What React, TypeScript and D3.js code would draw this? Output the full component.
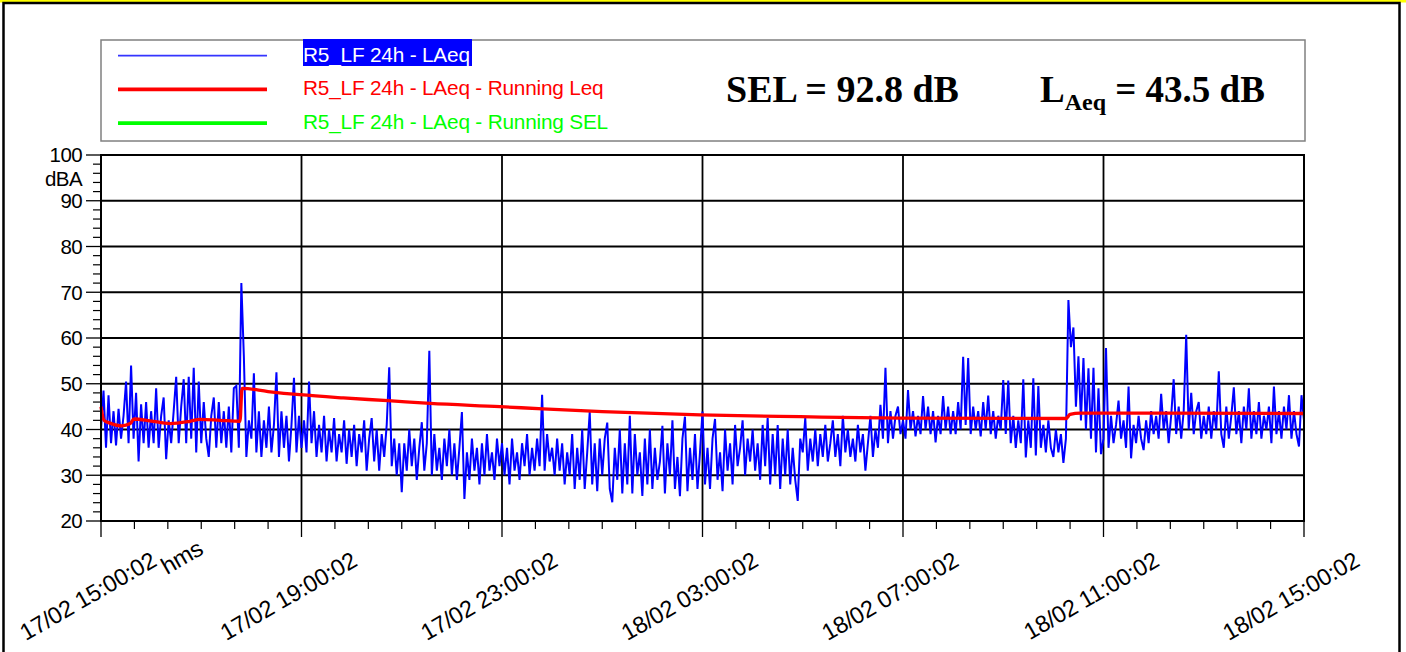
import React from 'react';
import * as d3 from 'd3';

// LAeq, one value every 3 minutes from 17/02 15:00:02 (rows = 1 hour)
const laeq: number[] = [
  40, 48.5, 36, 47.5, 37, 44, 36.5, 44.5, 38, 43, 50.5, 37, 54, 38, 48, 33, 45.5, 37, 46, 36,
  44, 37, 49, 36, 43, 47, 33.5, 42, 37, 44, 51.5, 37, 45, 51, 37, 51.5, 38, 53.5, 35, 50.5,
  37, 46, 38, 34, 43, 47, 36, 46, 37, 44, 36, 45, 35, 49, 49.5, 36, 72, 56, 34, 42,
  38, 52.3, 35, 44, 34, 42, 36, 45, 35, 41, 52.5, 34, 44, 36, 43, 33, 41, 51.3, 35, 43,
  36, 42, 35, 50.5, 37, 44, 34, 41, 35, 43, 33, 40, 35, 42.5, 33, 39, 35, 42, 32.5, 40,
  34, 41, 32, 39, 35, 42, 31, 38, 42.5, 33, 40, 31, 39, 34, 41, 53.6, 32, 38, 30, 37,
  26.3, 37, 31, 40, 32, 38, 29, 36, 41.6, 31, 37, 57.2, 30, 39, 31, 36, 29, 38, 32, 40,
  30, 37, 29, 36, 43.8, 24.8, 35, 29, 38, 31, 36, 28, 37, 30, 39, 31, 35, 29, 38, 32,
  37, 30, 36, 28, 38, 31, 35, 29, 37, 32, 39, 30, 36, 31, 38, 32, 47.6, 31, 39, 33,
  36, 30, 38, 31, 37, 28, 35, 30, 39, 27, 36, 29, 40, 27, 35, 43.8, 28, 37, 26.5, 38,
  30, 38, 41.5, 27, 24.1, 36, 29, 40, 26, 37, 28, 43, 26, 39, 30, 35, 25.5, 38, 28, 40,
  27, 36, 29, 33, 40.8, 26, 37, 30, 42, 27, 34, 25.4, 38, 42.8, 26.5, 36, 29, 39, 27, 35,
  43.9, 28, 36, 27, 38, 42.3, 29, 35, 26.5, 40, 31, 37, 28, 41, 32, 36, 42, 30, 38, 33,
  40, 31, 37, 29, 41, 32, 42.5, 28, 39, 30, 41, 27, 38, 30, 40, 28, 36, 29, 24.4, 38,
  35, 42.5, 31, 38, 33, 40, 32, 39, 34, 41, 33, 37, 42, 34, 39, 32, 43, 35, 40, 34,
  38, 33, 41, 35, 39, 31, 37, 43, 34, 40, 36, 45.4, 38, 53.5, 37, 44, 38, 43, 45, 39,
  42, 38, 48.6, 40, 44, 38.5, 43, 39, 47.3, 40, 45, 39, 44, 37.2, 43, 39, 47.3, 40, 45, 39,
  44, 39, 46, 40, 55.9, 41, 55.6, 39, 45, 40, 44, 38.5, 46, 40, 47.4, 39, 44, 38, 43, 40,
  50.8, 39, 50.7, 37, 43, 36, 42, 37, 51, 33.9, 42, 36, 51.2, 34.3, 49.5, 36, 41, 35, 42, 36,
  34, 40, 35, 39, 32.7, 38, 68.3, 58, 62.3, 45, 56, 42, 55.6, 40, 53.4, 38, 53.5, 35, 49, 34.6,
  38, 57.8, 36, 43, 37, 41, 46.3, 38, 42, 36, 49.4, 33.7, 41, 37, 43, 38, 35.5, 42, 37, 44,
  39, 43, 38, 47.8, 40, 44, 37, 43, 51, 39, 45, 38, 44, 60.7, 40, 48, 39, 44, 46, 38,
  43, 39, 45, 38, 44, 40, 52.7, 39, 36, 45, 38, 43, 49.2, 39, 44, 37, 45, 40, 49, 38,
  44, 39, 46, 38, 43, 40, 45, 37, 49.4, 39, 44, 38, 45, 40, 47.5, 38, 44, 39, 36.3, 47.5, 42,
];
const stepMin = 3;

// Running Leq read at selected minutes
const runMin: number[] = [0, 3.6, 10.8, 25, 35, 39.5, 58.7, 82.6, 106.5, 118.5, 142.4, 166.4, 168.8, 200, 238, 290, 343.5, 394, 477.6, 529, 600, 717, 837, 956, 1155, 1160, 1172, 1440];
const runVal: number[] = [45, 42, 41.4, 40.8, 41.3, 42.3, 41.9, 41.3, 41.8, 42.2, 42.0, 41.8, 49.0, 48.3, 47.6, 46.9, 46.3, 45.7, 45.0, 44.5, 43.9, 43.2, 42.8, 42.5, 42.4, 43.3, 43.6, 43.5];

const xTickLabels = ['17/02 15:00:02', '17/02 19:00:02', '17/02 23:00:02', '18/02 03:00:02', '18/02 07:00:02', '18/02 11:00:02', '18/02 15:00:02'];
const yTicks = [20, 30, 40, 50, 60, 70, 80, 90, 100];
const legendNames = ['R5_LF 24h - LAeq', 'R5_LF 24h - LAeq - Running Leq', 'R5_LF 24h - LAeq - Running SEL'];
const legendColors = ['#0000ff', '#ff0000', '#00ff00'];

const W = 1406;
const H = 652;
const sans = '"Liberation Sans", Arial, sans-serif';
const serif = '"Liberation Serif", "Times New Roman", serif';

const App: React.FC = () => {
  const x = d3.scaleLinear().domain([0, 1440]).range([101, 1304]);
  const y = d3.scaleLinear().domain([20, 100]).range([521, 155]);

  const blueLine = d3.line<number>()
    .x((_, i) => x(i * stepMin))
    .y(d => y(d));

  const redLine = d3.line<number>()
    .x((_, i) => x(runMin[i]))
    .y(d => y(d))
    .curve(d3.curveMonotoneX);

  const majorX = d3.range(0, 1441, 240);
  const minorX = d3.range(0, 1441, 40).filter(m => m % 240 !== 0);
  const minorY = d3.range(20, 101, 2).filter(v => v % 10 !== 0);

  return (
    <svg width={W} height={H} style={{ position: 'absolute', left: 0, top: 0, background: '#fff' }}>
      {/* frame */}
      <rect x={0} y={0} width={W} height={2.5} fill="#ffff00" />
      <rect x={3.5} y={3} width={1396} height={H + 10} fill="none" stroke="#000" strokeWidth={2.5} />

      {/* legend box */}
      <rect x={101} y={40} width={1204} height={101} fill="#fff" stroke="#808080" strokeWidth={1.5} />
      <rect x={303} y={39} width={169} height={27} fill="#0000ff" />
      {legendNames.map((n, i) => (
        <g key={n}>
          <line x1={118} x2={267} y1={55.7 + i * 33.7} y2={55.7 + i * 33.7}
            stroke={i === 0 ? '#3535ff' : legendColors[i]} strokeWidth={i === 0 ? 1.8 : 3.8} />
          <text x={303} y={61.5 + i * 33.5} fontFamily={sans} fontSize={20.8} letterSpacing={-0.2}
            fill={i === 0 ? '#fff' : legendColors[i]}>{n}</text>
        </g>
      ))}
      <text x={726} y={102} fontFamily={serif} fontWeight="bold" fontSize={38}>SEL = 92.8 dB</text>
      <text x={1040} y={102} fontFamily={serif} fontWeight="bold" fontSize={37}>
        L<tspan fontSize={24} dy={8}>Aeq</tspan><tspan dy={-8}> = 43.5 dB</tspan>
      </text>

      {/* grid */}
      {yTicks.slice(1, -1).map(v => (
        <line key={'gy' + v} x1={101} x2={1304} y1={y(v)} y2={y(v)} stroke="#000" strokeWidth={1.8} />
      ))}
      {majorX.slice(1, -1).map(m => (
        <line key={'gx' + m} x1={x(m)} x2={x(m)} y1={155} y2={521} stroke="#000" strokeWidth={1.8} />
      ))}

      {/* series */}
      <path d={blueLine(laeq) || ''} fill="none" stroke="#0000ff" strokeWidth={2} />
      <path d={redLine(runVal) || ''} fill="none" stroke="#ff0000" strokeWidth={3.3} />

      {/* plot border */}
      <rect x={101} y={155} width={1203} height={366} fill="none" stroke="#000" strokeWidth={2} />

      {/* y axis */}
      {yTicks.map(v => (
        <g key={'yt' + v}>
          <line x1={86} x2={101} y1={y(v)} y2={y(v)} stroke="#000" strokeWidth={1.3} />
          <text x={82} y={y(v)} dy="0.36em" textAnchor="end" fontFamily={sans} fontSize={20.5} letterSpacing={-0.6}>{v}</text>
        </g>
      ))}
      {minorY.map(v => (
        <line key={'ym' + v} x1={93} x2={101} y1={y(v)} y2={y(v)} stroke="#000" strokeWidth={1.2} />
      ))}
      <text x={82} y={179} dy="0.36em" textAnchor="end" fontFamily={sans} fontSize={20.5} letterSpacing={-0.6}>dBA</text>

      {/* x axis */}
      {majorX.map((m, i) => (
        <g key={'xt' + m}>
          <line x1={x(m)} x2={x(m)} y1={521} y2={537} stroke="#000" strokeWidth={1.3} />
          <text transform={`translate(${x(m) + 57},${565}) rotate(-30)`} textAnchor="end"
            fontFamily={sans} fontSize={23.5} letterSpacing={-0.3}>{xTickLabels[i]}</text>
        </g>
      ))}
      {minorX.map(m => (
        <line key={'xm' + m} x1={x(m)} x2={x(m)} y1={521} y2={529} stroke="#000" strokeWidth={1.2} />
      ))}
      <text transform="translate(167,575) rotate(-30)" fontFamily={sans} fontSize={23.5} letterSpacing={-0.3}>hms</text>
    </svg>
  );
};

export default App;
